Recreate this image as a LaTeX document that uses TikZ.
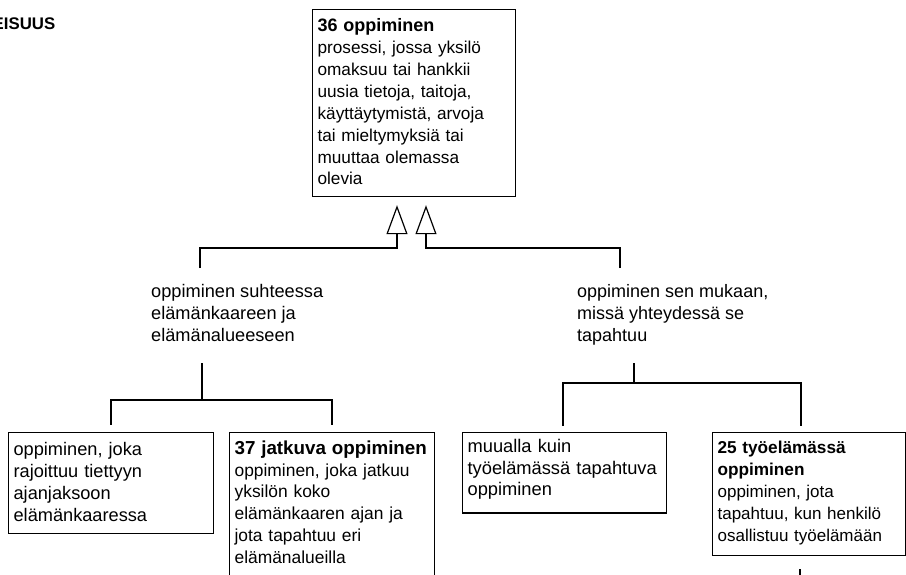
\documentclass[tikz,border=0pt]{standalone}
\usepackage{fontspec}
\setmainfont{Liberation Sans}
\usetikzlibrary{arrows.meta}
\newcommand\bsz[2]{{\fontsize{#1}{21.9}\selectfont\bfseries #2}}
\tikzset{
  fs/.style={font=\fontsize{#1}{21.9}\selectfont},
  box/.style={draw, line width=1.2pt, anchor=north west, align=left, inner xsep=5pt, inner ysep=0pt},
  lab/.style={anchor=north west, align=left, inner sep=0pt},
  link/.style={line width=1.2pt},
  gen/.style={line width=1.2pt, -{Triangle[open, length=29pt, width=21pt, line width=1.2pt]}, shorten >=8pt}
}
\begin{document}
\begin{tikzpicture}[x=1pt, y=-1pt]
\useasboundingbox (0,0) rectangle (906,574);
\clip (0,0) rectangle (906,574);
% header
\node[anchor=base west, inner sep=0pt, font=\fontsize{16.8}{21.9}\selectfont\bfseries] (hdr) at (-7.5,29) {EISUUS};
% top box
\node[box, fs=17.2, text width=193pt] (top) at (312,9) {\rule{0pt}{22pt}\bsz{18}{36 oppiminen}\\prosessi, jossa yksilö\\omaksuu tai hankkii\\uusia tietoja, taitoja,\\käyttäytymistä, arvoja\\tai mieltymyksiä tai\\muuttaa olemassa\\olevia\rule[-11.7pt]{0pt}{11.7pt}};
% labels
\node[lab, fs=18.2] (labL) at (151,268) {\rule{0pt}{29pt}oppiminen suhteessa\\elämänkaareen ja\\elämänalueeseen\rule[-22pt]{0pt}{22pt}};
\node[lab, fs=18] (labR) at (577,268) {\rule{0pt}{29pt}oppiminen sen mukaan,\\missä yhteydessä se\\tapahtuu\rule[-22pt]{0pt}{22pt}};
% bottom boxes
\node[box, fs=18.2, text width=195pt] (boxA) at (8,432) {\rule{0pt}{23pt}oppiminen, joka\\rajoittuu tiettyyn\\ajanjaksoon\\elämänkaaressa\rule[-12.3pt]{0pt}{12.3pt}};
\node[box, fs=17.4, text width=195pt] (box37) at (229,432) {\rule{0pt}{21.5pt}\bsz{18.8}{37 jatkuva oppiminen}\\oppiminen, joka jatkuu\\yksilön koko\\elämänkaaren ajan ja\\jota tapahtuu eri\\elämänalueilla\rule[-40pt]{0pt}{40pt}};
\node[box, fs=18.3, text width=194pt] (boxM) at (462,432) {\rule{0pt}{19.5pt}muualla kuin\\työelämässä tapahtuva\\oppiminen\rule[-17pt]{0pt}{17pt}};
\node[box, fs=17, text width=183pt] (box25) at (712,432) {\rule{0pt}{21.3pt}\bsz{17.2}{25 työelämässä}\\\bsz{17.2}{oppiminen}\\oppiminen, jota\\tapahtuu, kun henkilö\\osallistuu työelämään\rule[-14pt]{0pt}{14pt}};
% helper coordinates
\coordinate (jL) at (200,248);
\coordinate (jR) at (620,248);
\coordinate (tipL) at (397,0);
\coordinate (tipR) at (426,0);
\coordinate (hL) at (202,400);
\coordinate (xA) at (111,0);
\coordinate (x37) at (332,0);
\coordinate (hR) at (634,383);
\coordinate (xM) at (563,0);
\coordinate (x25) at (801,0);
\coordinate (below25) at (800,600);
% generalisation connectors
\draw[gen] (labL.north -| jL) -- (jL) -| (top.south -| tipL);
\draw[gen] (labR.north -| jR) -- (jR) -| (top.south -| tipR);
% left tree
\draw[link, shorten >=7pt] (labL.south -| hL) -- (hL) -| (boxA.north -| xA);
\draw[link, shorten >=7pt] (hL) -| (box37.north -| x37);
% right tree
\draw[link, shorten >=6pt] (labR.south -| hR) -- (hR) -| (boxM.north -| xM);
\draw[link, shorten >=6pt] (hR) -| (box25.north -| x25);
% line below box 25
\draw[link, shorten <=13pt] (box25.south -| below25) -- (below25);
\end{tikzpicture}
\end{document}
